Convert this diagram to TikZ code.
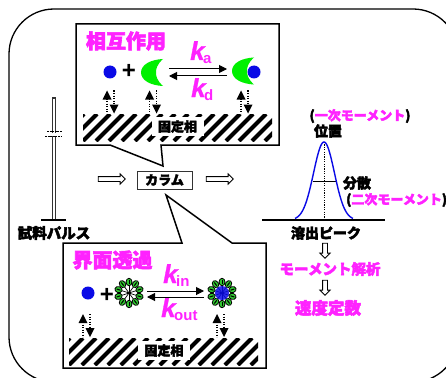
\documentclass[tikz,border=0pt]{standalone}
\usepackage{fontspec}
\usetikzlibrary{shapes.arrows,arrows.meta}
\setmainfont{Liberation Sans}
\newfontfamily\jpfont{Noto Sans CJK JP}[BoldFeatures={FakeBold=3}]
\newfontfamily\ratefont{Liberation Sans}[BoldItalicFeatures={FakeBold=1}]
\definecolor{accent}{HTML}{FF22FF}
\definecolor{molblue}{HTML}{0A0AE6}
\definecolor{cresc}{HTML}{00F000}
\definecolor{micgreen}{HTML}{30C830}
\newcommand{\fs}[1]{\fontsize{#1}{#1}\selectfont}
\tikzset{
  panel/.style={draw=black,line width=1.5pt,line join=miter,fill=white},
  heading/.style={inner sep=0pt,text=accent,font=\jpfont\bfseries\fs{20}},
  label/.style={inner sep=0pt,text=black,font=\jpfont\bfseries\fs{14}},
  moment/.style={inner sep=0pt,text=black,font=\jpfont\bfseries\fs{13}},
  note/.style={inner sep=0pt,text=accent,font=\jpfont\bfseries\fs{13.5}},
  stationary/.style={fill=white,inner sep=0pt,minimum width=52,minimum height=19,text=black,font=\jpfont\bfseries\fs{13}},
  rate/.style={inner sep=0pt,anchor=base west,text=accent,font=\ratefont\bfseries\itshape\fs{26}},
  ratesub/.style={inner sep=0pt,anchor=base west,text=accent,font=\ratefont\bfseries\fs{15}},
  molecule/.style={circle,fill=molblue,inner sep=0pt,minimum size=13},
  plussign/.style={inner sep=0pt,text=black,font=\ratefont\bfseries\fs{24}},
  flow/.style={single arrow,draw=black,line width=0.9pt,fill=white,inner sep=2pt,
    minimum height=27,minimum width=9,single arrow head extend=2.6pt,single arrow tip angle=90},
  flowdown/.style={flow,shape border rotate=270,minimum height=15},
  reaction/.style={draw=black,line width=1pt,-{Triangle[length=8,width=8]}},
  crescent/.pic={
    \fill[cresc] (11,-13.5) .. controls (-1,-13) and (-11,-8) .. (-11,0)
      .. controls (-11,8) and (-1,13) .. (11,13.5)
      .. controls (5,8) and (4,4) .. (4,0)
      .. controls (4,-4) and (5,-8) .. (11,-13.5) -- cycle;
  },
  exchange/.pic={
    \draw[line width=1.3pt,dash pattern=on 1.2pt off 1.3pt] (0,8) -- (0,23);
    \fill (-4.5,9) -- (0,0) -- (4.5,9) -- cycle;
    \draw[line width=1.3pt,dash pattern=on 1.2pt off 1.3pt] (7,0) -- (7,14);
    \fill (2.5,14) -- (7,23) -- (11.5,14) -- cycle;
  },
  micelle/.pic={
    \foreach \a in {0,36,...,324}{
      \begin{scope}[rotate=\a]
        \draw[line width=0.7pt] (0,0) -- (0,-9);
        \draw[line width=0.8pt,fill=micgreen] (0,-11) ellipse [x radius=3,y radius=3.7];
        \draw[line width=1pt] (0,-13) -- (0,-9);
      \end{scope}
    }
  },
  hatching/.pic={
    \begin{scope}
      \clip (0,0) rectangle (189,27);
      \foreach \s in {-26,-13,...,195}{
        \draw[line width=4pt] (\s,27) -- (\s+27,0);
      }
    \end{scope}
  },
}
\begin{document}
\begin{tikzpicture}[x=1pt,y=-1pt]
  \useasboundingbox[clip] (0,0) rectangle (446,377);
  \fill[white] (0,0) rectangle (446,377);
  \draw[line width=1.3pt,rounded corners=45] (9,9) rectangle (458,382);

  % Interaction panel with its pointer towards the column
  \coordinate (tipA) at (163,166);
  \draw[panel] (76,24) -- (279,24) -- (279,145) -- (161,145) -- (tipA) -- (110,145) -- (76,145) -- cycle;
  \node[heading] (titleA) at (126,41) {相互作用};
  \node[molecule] (freeA) at (110,72) {};
  \node[plussign] (plusA) at (129,71) {+};
  \pic at (152,72.5) {crescent};
  \pic at (243,71) {crescent};
  \node[molecule] (boundA) at (254,72) {};
  \coordinate (fwdA0) at (169,69); \coordinate (fwdA1) at (227,69);
  \coordinate (revA0) at (227,76); \coordinate (revA1) at (169,76);
  \draw[reaction] (fwdA0) -- (fwdA1);
  \draw[reaction] (revA0) -- (revA1);
  \node[rate] (ka) at (190,60) {k};
  \node[ratesub] (kaSub) at (203,64) {a};
  \node[rate] (kd) at (191,97) {k};
  \node[ratesub] (kdSub) at (204,100) {d};
  \pic at (107,90.5) {exchange};
  \pic at (149.5,90.5) {exchange};
  \pic at (241,90.5) {exchange};
  \pic at (83,114) {hatching};
  \node[stationary] (phaseA) at (177.5,126.5) {固定相};

  % Interface-transit panel with its pointer towards the column
  \coordinate (tipB) at (166,195);
  \draw[panel] (63,243) -- (182,243) -- (tipB) -- (232,243) -- (266,243) -- (266,368) -- (63,368) -- cycle;
  \node[heading] (titleB) at (112.5,260) {界面透過};
  \node[molecule] (freeB) at (88,293) {};
  \node[plussign] (plusB) at (107,295) {+};
  \pic at (129,293) {micelle};
  \pic at (222,293) {micelle};
  \fill[molblue,opacity=0.85] (222,293) circle (7);
  \coordinate (fwdB0) at (147,291); \coordinate (fwdB1) at (204,291);
  \coordinate (revB0) at (204,297); \coordinate (revB1) at (147,297);
  \draw[reaction] (fwdB0) -- (fwdB1);
  \draw[reaction] (revB0) -- (revB1);
  \node[rate] (kin) at (163,283) {k};
  \node[ratesub] (kinSub) at (176,286) {in};
  \node[rate] (kout) at (161,317) {k};
  \node[ratesub] (koutSub) at (174,320) {out};
  \pic at (83,314) {exchange};
  \pic at (217,314) {exchange};
  \pic at (69,338) {hatching};
  \node[stationary] (phaseB) at (164,350.5) {固定相};

  % Injected sample pulse
  \coordinate (pulseTop) at (54,97);
  \coordinate (pulseBase) at (54,220);
  \draw[line width=4.4pt,black!80] (pulseTop) -- (pulseBase);
  \draw[line width=2pt,white] (54,98.5) -- (pulseBase);
  \draw[line width=2pt] (41,220) -- (66,220);
  \fill[white] (46,132.5) rectangle (62,135.5);
  \draw[line width=0.8pt,dash pattern=on 2pt off 0.6pt] (47,131.5) -- (62,131.5);
  \draw[line width=0.8pt,dash pattern=on 2pt off 0.6pt] (45,136) -- (62,136);
  \node[label,font=\jpfont\bfseries\fs{14.5}] (pulseText) at (54,233) {試料パルス};

  % Column between the two flow arrows
  \node[flow] (flowIn) at (110.5,179) {};
  \node[draw=black!80,line width=1pt,minimum width=55,minimum height=18,inner sep=0pt,font=\jpfont\bfseries\fs{13}] (column) at (164.5,180) {カラム};
  \node[flow] (flowOut) at (218.5,179) {};

  % Elution peak
  \coordinate (baseL) at (262,220);
  \coordinate (baseR) at (385,220);
  \coordinate (peakTop) at (324,142);
  \coordinate (peakFoot) at (324,220);
  \coordinate (widthL) at (313,181);
  \coordinate (widthR) at (337,181);
  \draw[line width=1pt,dash pattern=on 1.2pt off 1.2pt] (peakTop) -- (peakFoot);
  \draw[line width=0.9pt] (widthL) -- (widthR);
  \draw[molblue,line width=1.4pt] plot[domain=295:353,samples=70,smooth] (\x,{220-78*exp(-((\x-324)^2)/(2*10.4*10.4))});
  \draw[line width=1.8pt] (baseL) -- (baseR);

  \node[moment] (firstMoment) at (360,116) {(\textcolor{accent}{一次モーメント})};
  \node[label] (position) at (328,131) {位置};
  \node[label] (dispersion) at (357,183) {分散};
  \node[moment,anchor=west] (secondMoment) at (346,200) {(\textcolor{accent}{二次モーメント})};
  \node[label] (peakText) at (326,233) {溶出ピーク};
  \node[flowdown] (flowA) at (325,249.5) {};
  \node[note,font=\jpfont\bfseries\fs{14.5}] (analysis) at (330,269) {モーメント解析};
  \node[flowdown] (flowB) at (325,286.5) {};
  \node[note,font=\jpfont\bfseries\fs{16.5}] (constants) at (328,308) {速度定数};
\end{tikzpicture}
\end{document}
